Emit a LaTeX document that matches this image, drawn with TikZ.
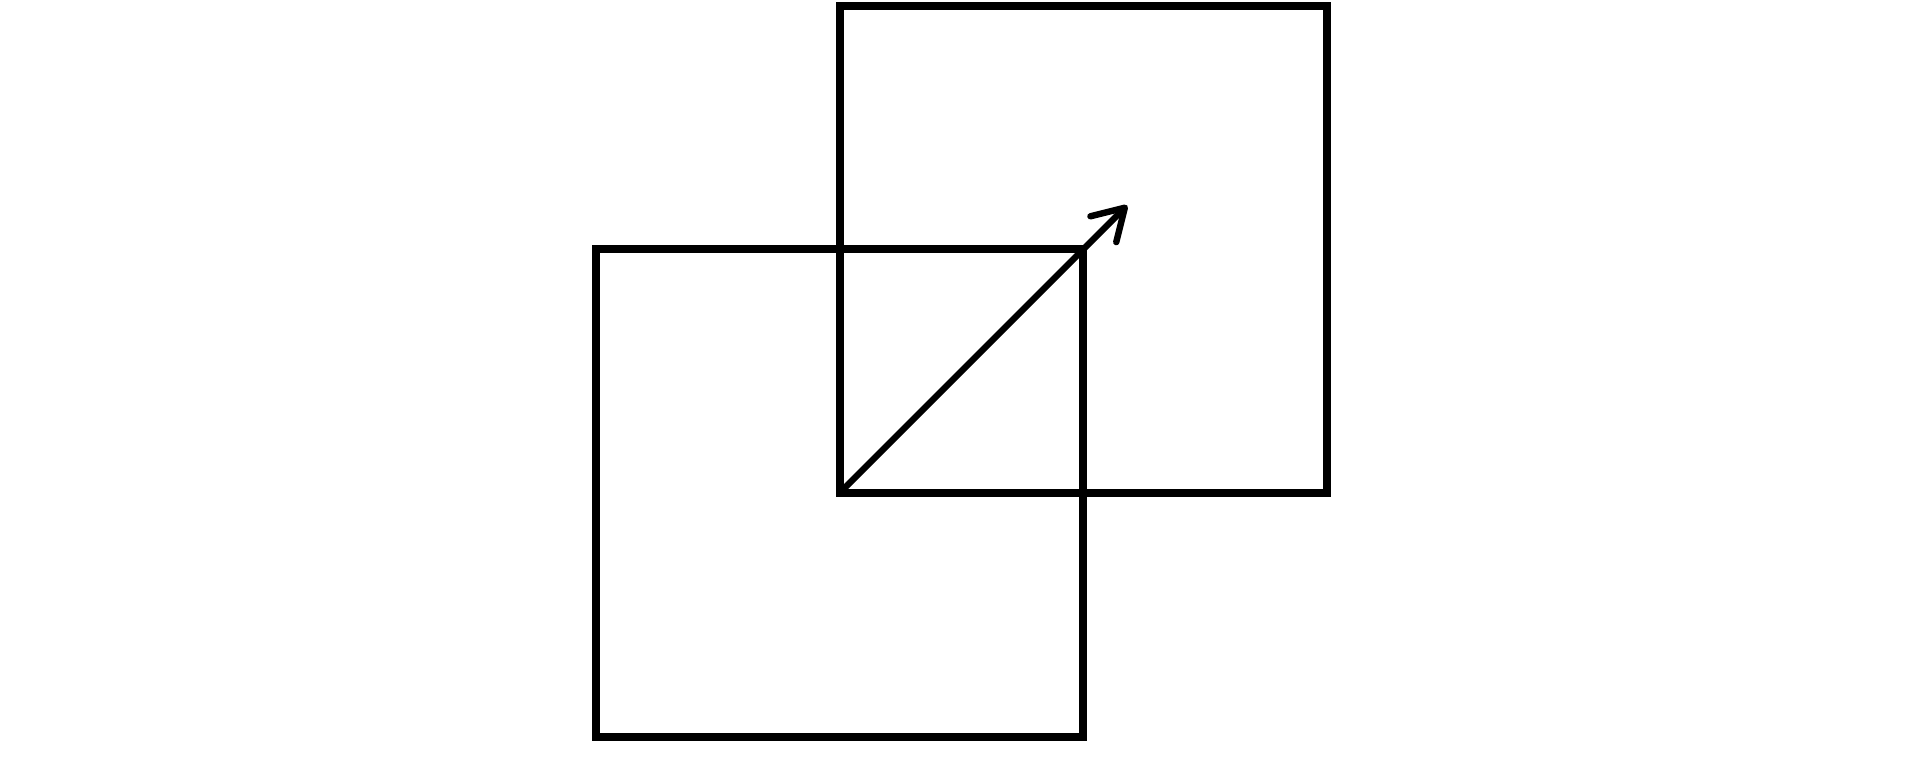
\documentclass[tikz,border=0pt]{standalone}
\usetikzlibrary{arrows.meta,positioning}
\begin{document}
\begin{tikzpicture}[
    sq/.style={draw, line width=1.9pt, minimum size=\side cm, inner sep=0pt, outer sep=0pt}]
    % Parameters
    \def\side{4}
    \useasboundingbox (-4.892,-0.16) rectangle (10.868,6.046);

    % Squares
    \node[sq] (S1) at (2,2) {};
    \node[sq, anchor=south west] (S2) at (S1.center) {};

    % Arrow from the corner
    \coordinate[above right=2.36cm and 2.36cm of S2.south west] (T);
    \draw[line width=1.5pt, -{Straight Barb[round, length=0.25cm, width=0.3cm]}] (S2.south west) -- (T);
\end{tikzpicture}
\end{document}
